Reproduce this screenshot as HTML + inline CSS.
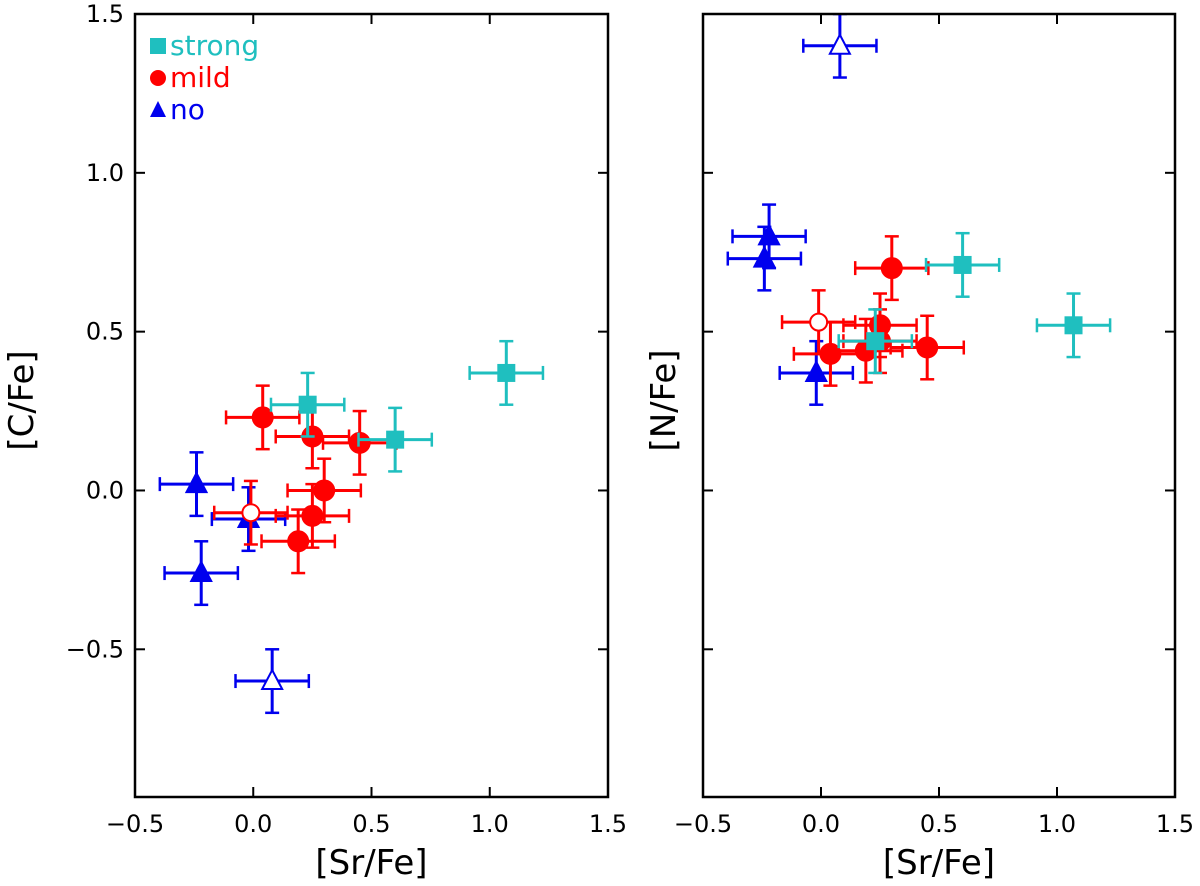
<!DOCTYPE html>
<html><head><meta charset="utf-8"><style>
html,body{margin:0;padding:0;background:#fff;}
svg text{font-family:"DejaVu Sans","Liberation Sans",sans-serif;}
</style></head><body>
<svg id="chart" width="1200" height="881" xmlns="http://www.w3.org/2000/svg"></svg>
<script>
const xTicks=[-0.5,0.0,0.5,1.0,1.5];
const xTickLabels=["\u22120.5","0.0","0.5","1.0","1.5"];
const yTicks=[-0.5,0.0,0.5,1.0,1.5];
const yTickLabels=["\u22120.5","0.0","0.5","1.0","1.5"];
const strongSr=[0.23,0.60,1.07];
const strongC=[0.27,0.16,0.37];
const strongN=[0.47,0.71,0.52];
const mildSr=[0.04,0.25,0.45,0.30,0.25,0.19,-0.01];
const mildC=[0.23,0.17,0.15,0.00,-0.08,-0.16,-0.07];
const mildN=[0.43,0.52,0.45,0.70,0.47,0.44,0.53];
const mildOpen=[false,false,false,false,false,false,true];
const noSr=[-0.24,-0.02,-0.22,0.08];
const noC=[0.02,-0.09,-0.26,-0.60];
const noN=[0.73,0.37,0.80,1.40];
const noOpen=[false,false,false,true];
const xErr=0.155, yErr=0.10;

const NS="http://www.w3.org/2000/svg";
const svg=document.getElementById('chart');
function mk(tag,attrs,parent){const e=document.createElementNS(NS,tag);for(const k in attrs)e.setAttribute(k,attrs[k]);(parent||svg).appendChild(e);return e;}
const yTop=14,yBottom=797,yMin=-0.965,yMax=1.5;
function yS(v){return yBottom-(v-yMin)/(yMax-yMin)*(yBottom-yTop);}
function panel(name,left,right,yKey,showYLabels,ylabel){
  const g=mk('g',{});
  
  
  const xS=v=>left+(v+0.5)/2*(right-left);
  xTicks.forEach((t,i)=>{
    const x=xS(t);
    if(i>0&&i<xTicks.length-1){
      mk('line',{x1:x,x2:x,y1:yBottom,y2:yBottom-10,stroke:'#000','stroke-width':2},g);
      mk('line',{x1:x,x2:x,y1:yTop,y2:yTop+10,stroke:'#000','stroke-width':2},g);
    }
    const tl=mk('text',{x:x,y:yBottom+35,'font-size':24,'text-anchor':'middle'},g);
    tl.textContent=xTickLabels[i];
    
    
  });
  yTicks.forEach((t,i)=>{
    const y=yS(t);
    if(t<1.5){
      mk('line',{x1:left,x2:left+10,y1:y,y2:y,stroke:'#000','stroke-width':2},g);
      mk('line',{x1:right,x2:right-10,y1:y,y2:y,stroke:'#000','stroke-width':2},g);
    }
    if(showYLabels){
      const tl=mk('text',{x:left-11,y:y+8,'font-size':24,'text-anchor':'end'},g);
      tl.textContent=yTickLabels[i];
      
      
    }
  });
  const xl=mk('text',{x:(left+right)/2,y:874,'font-size':34,'text-anchor':'middle'},g);
  xl.textContent='[Sr/Fe]';
  
  
  const yl=mk('text',{x:0,y:0,'font-size':34,'text-anchor':'middle'},g);
  yl.setAttribute('transform',`translate(${showYLabels?33:left-28},${(yTop+yBottom)/2-5}) rotate(-90)`);
  yl.textContent=ylabel;
  
  
  const cp='clip-'+name;
  const cpe=mk('clipPath',{id:cp},g);
  mk('rect',{x:left,y:yTop,width:right-left,height:yBottom-yTop},cpe);
  const pg=mk('g',{'clip-path':`url(#${cp})`},g);
  function err(x,y,col){
    const px=xS(x),py=yS(y),x1=xS(x-xErr),x2=xS(x+xErr),y1=yS(y+yErr),y2=yS(y-yErr);
    mk('line',{x1:x1,x2:x2,y1:py,y2:py,stroke:col,'stroke-width':3},pg);
    mk('line',{x1:px,x2:px,y1:y1,y2:y2,stroke:col,'stroke-width':3},pg);
    [[x1,py,0],[x2,py,0],[px,y1,1],[px,y2,1]].forEach(([a,b,v])=>{
      if(v)mk('line',{x1:a-7,x2:a+7,y1:b,y2:b,stroke:col,'stroke-width':2.5},pg);
      else mk('line',{x1:a,x2:a,y1:b-7,y2:b+7,stroke:col,'stroke-width':2.5},pg);
    });
  }
  const ys= yKey==='C'?{s:strongC,m:mildC,n:noC}:{s:strongN,m:mildN,n:noN};
  noSr.forEach((x,i)=>{
    const col='#0000ee';err(x,ys.n[i],col);
    const px=xS(x),py=yS(ys.n[i]);
    const p=mk('polygon',{points:`${px},${py-11} ${px-10},${py+8} ${px+10},${py+8}`,fill:noOpen[i]?'#fff':col,stroke:col,'stroke-width':2},pg);
    
    
  });
  mildSr.forEach((x,i)=>{
    const col='#ff0000';err(x,ys.m[i],col);
    const c=mk('circle',{cx:xS(x),cy:yS(ys.m[i]),r:mildOpen[i]?8.5:10,fill:mildOpen[i]?'#fff':col,stroke:col,'stroke-width':2},pg);
    
    
  });
  strongSr.forEach((x,i)=>{
    const col='#1fbfbf';err(x,ys.s[i],col);
    const r=mk('rect',{x:xS(x)-9,y:yS(ys.s[i])-9,width:18,height:18,fill:col},pg);
    
    
  });
  mk('rect',{x:left,y:yTop,width:right-left,height:yBottom-yTop,fill:'none',stroke:'#000','stroke-width':2.5},g);
  return g;
}
panel('left-panel',135,608,'C',true,'[C/Fe]');
panel('right-panel',703,1175,'N',false,'[N/Fe]');
const leg=[['strong','#1fbfbf','sq',46],['mild','#ff0000','ci',78],['no','#0000ee','tr',110]];
leg.forEach(([t,c,m,y])=>{
  const g=mk('g',{});
  
  
  if(m==='sq')mk('rect',{x:150,y:y-8,width:16,height:16,fill:c},g);
  if(m==='ci')mk('circle',{cx:158,cy:y,r:8,fill:c},g);
  if(m==='tr')mk('polygon',{points:`158,${y-9} 150,${y+7} 166,${y+7}`,fill:c},g);
  const tx=mk('text',{x:170,y:y+9,'font-size':28,fill:c},g);
  tx.textContent=t;
});
</script>
</body></html>
